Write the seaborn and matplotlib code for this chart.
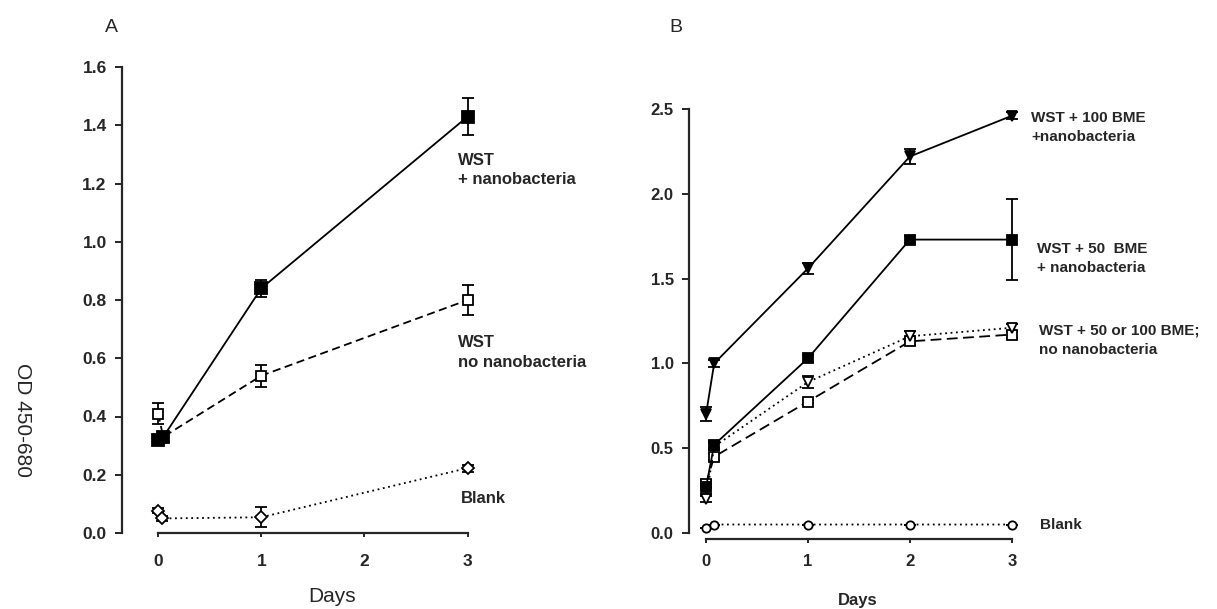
import matplotlib
matplotlib.use("Agg")
import matplotlib.pyplot as plt
import seaborn as sns
from matplotlib import font_manager

# ---- panel A data ----
a_days = [0, 0.05, 1, 3]
a_wst_nano = [0.32, 0.33, 0.84, 1.43]
a_wst_nano_err = [0.012, 0.012, 0.03, 0.062]
a_wst_no = [0.41, 0.33, 0.54, 0.80]
a_wst_no_err = [0.035, 0.01, 0.037, 0.052]
a_blank_days = [0, 0.04, 1, 3]
a_blank = [0.077, 0.05, 0.054, 0.223]
a_blank_err = [0.01, 0.01, 0.034, 0.012]

# ---- panel B data ----
b_days = [0, 0.08, 1, 2, 3]
b_100_nano = [0.70, 1.00, 1.56, 2.22, 2.46]
b_100_nano_err = [0.04, 0.02, 0.03, 0.045, 0.02]
b_50_nano = [0.27, 0.52, 1.03, 1.73, 1.73]
b_50_nano_err = [0.04, 0.02, 0.02, 0.02, 0.24]
b_no_tri = [0.20, 0.51, 0.89, 1.16, 1.21]
b_no_tri_err = [0.02, 0.02, 0.033, 0.03, 0.02]
b_no_sq = [0.29, 0.45, 0.775, 1.13, 1.17]
b_no_sq_err = [0.02, 0.02, 0.01, 0.02, 0.02]
b_blank = [0.03, 0.05, 0.05, 0.05, 0.05]

a_yticks = [0.0, 0.2, 0.4, 0.6, 0.8, 1.0, 1.2, 1.4, 1.6]
b_yticks = [0.0, 0.5, 1.0, 1.5, 2.0, 2.5]
day_ticks = [0, 1, 2, 3]

sns.set_style("ticks")
names = {f.name for f in font_manager.fontManager.ttflist}
narrow = "Liberation Sans Narrow" if "Liberation Sans Narrow" in names else "Liberation Sans"
plt.rcParams["font.family"] = ["Liberation Sans", "DejaVu Sans"]

W, H = 1217, 609
fig = plt.figure(figsize=(W / 100, H / 100), dpi=100)


def px_axes(left, right, top, bottom):
    return fig.add_axes([left / W, (H - bottom) / H, (right - left) / W, (bottom - top) / H])


def series(ax, x, y, err, ls, marker, ms, fill, lw=1.3):
    ax.errorbar(x, y, yerr=err, fmt="none", ecolor="black", elinewidth=lw,
                capsize=4.5, capthick=lw, zorder=1, clip_on=False)
    sns.lineplot(x=x, y=y, ax=ax, color="black", linewidth=lw, linestyle=ls,
                 marker=marker, markersize=ms, markerfacecolor=fill,
                 markeredgecolor="black", markeredgewidth=1.3,
                 errorbar=None, sort=False, clip_on=False, zorder=3)


def style_axes(ax, ymax, yticks, fmt, tick_size, xpad, ypad, font):
    sns.despine(ax=ax)
    ax.spines["left"].set_bounds(0, ymax)
    ax.spines["bottom"].set_bounds(0, 3)
    for s in ("left", "bottom"):
        ax.spines[s].set_linewidth(1.6)
    ax.set_xticks(day_ticks)
    ax.set_xticklabels([str(d) for d in day_ticks])
    ax.set_yticks(yticks)
    ax.set_yticklabels([fmt % v for v in yticks])
    ax.tick_params(axis="y", direction="out", length=5, width=1.4, pad=ypad)
    ax.tick_params(axis="x", direction="out", length=3, width=1.4, pad=xpad)
    for lab in ax.get_xticklabels() + ax.get_yticklabels():
        lab.set_fontsize(tick_size)
        lab.set_fontweight("bold")
        lab.set_family(font)
    ax.set_xlabel("")
    ax.set_ylabel("")


# ---- panel A ----
axA = px_axes(122, 478, 67, 533)
axA.set_xlim(-0.35, 3.1)
axA.set_ylim(0, 1.6)
series(axA, a_days, a_wst_no, a_wst_no_err, (0, (4.5, 2.5)), "s", 7.5, "white")
series(axA, a_days, a_wst_nano, a_wst_nano_err, "-", "s", 8.5, "black")
series(axA, a_blank_days, a_blank, a_blank_err, (0, (1, 2)), "D", 6, "white")
style_axes(axA, 1.6, a_yticks, "%.1f", 12.5, 12, 6, "Liberation Sans")

txt = dict(fontsize=12, fontweight="bold", family=narrow, ha="left", va="center",
           linespacing=1.35, clip_on=False)
axA.text(2.91, 1.245, "WST\n+ nanobacteria", **txt)
axA.text(2.91, 0.62, "WST\nno nanobacteria", **txt)
axA.text(2.93, 0.117, "Blank", **txt)
fig.text(332 / W, 1 - 597 / H, "Days", fontsize=15, ha="center", va="center")
fig.text(111 / W, 1 - 27 / H, "A", fontsize=14, ha="center", va="center")
fig.text(22 / W, 1 - 420 / H, "OD 450-680", fontsize=15, rotation=-90,
         ha="center", va="center")

# ---- panel B ----
axB = px_axes(689, 1022, 109, 533)
axB.set_xlim(-0.167, 3.1)
axB.set_ylim(0, 2.5)
series(axB, b_days, b_no_sq, b_no_sq_err, (0, (6, 3)), "s", 6.5, "white")
series(axB, b_days, b_no_tri, b_no_tri_err, (0, (1, 2)), "v", 7, "white")
series(axB, b_days, b_50_nano, b_50_nano_err, "-", "s", 7, "black")
series(axB, b_days, b_100_nano, b_100_nano_err, "-", "v", 7.5, "black")
series(axB, b_days, b_blank, [0, 0, 0, 0, 0], (0, (1, 2)), "o", 6, "white")
axB.spines["bottom"].set_position(("outward", 4))
style_axes(axB, 2.5, b_yticks, "%.1f", 12, 8, 6, narrow)

txtB = dict(fontsize=11, fontweight="bold", family=narrow, ha="left", va="center",
            linespacing=1.45, clip_on=False)
axB.text(3.19, 2.39, "WST + 100 BME\n+nanobacteria", **txtB)
axB.text(3.25, 1.617, "WST + 50  BME\n+ nanobacteria", **txtB)
axB.text(3.27, 1.136, "WST + 50 or 100 BME;\nno nanobacteria", **txtB)
axB.text(3.28, 0.05, "Blank", **txtB)
fig.text(858 / W, 1 - 600 / H, "Days", fontsize=12, fontweight="bold",
         family=narrow, ha="center", va="center")
fig.text(676 / W, 1 - 27 / H, "B", fontsize=14, ha="center", va="center")

fig.savefig("out.png", dpi=100)
